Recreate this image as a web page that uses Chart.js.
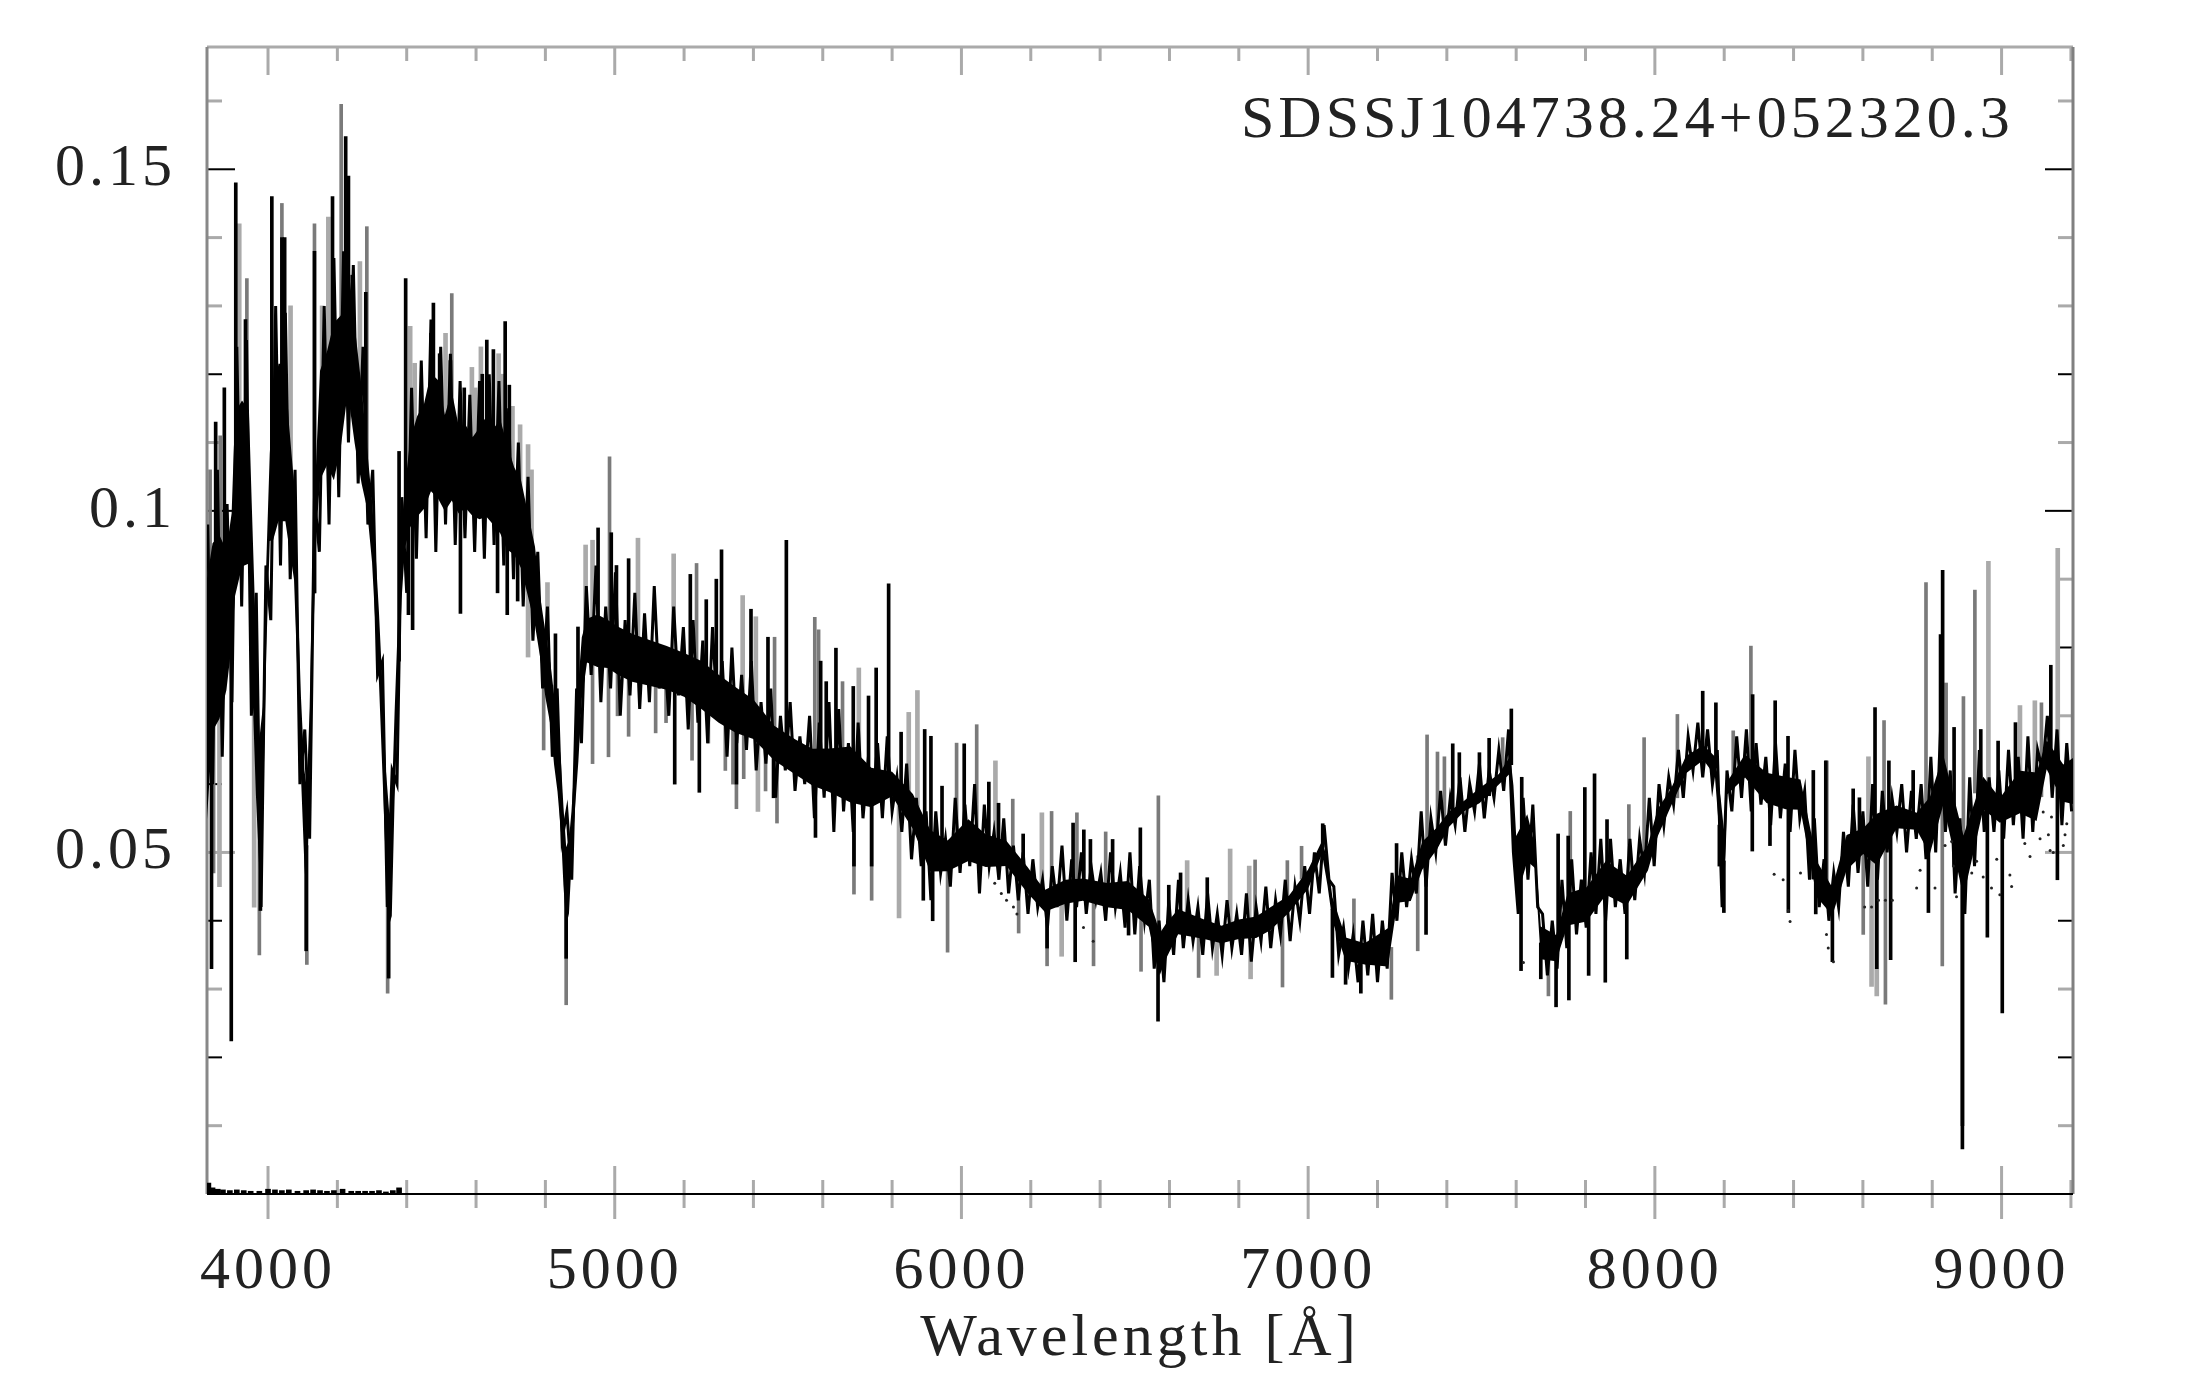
<!DOCTYPE html>
<html>
<head>
<meta charset="utf-8">
<style>body { margin: 0; background: #fff; } canvas { display: block; }</style>
<script src="https://cdn.jsdelivr.net/npm/chart.js@4/dist/chart.umd.js"></script>
</head>
<body>
<canvas id="spectrum" width="2185" height="1388"></canvas>
<script>
// all fluxes below are in units of 0.001
const objectName = 'SDSSJ104738.24+052320.3';
const xLabelText = 'Wavelength [\u00c5]';
const xTickValues = [4000, 5000, 6000, 7000, 8000, 9000];
const yTickValues = [0.05, 0.1, 0.15];
const darkYTicks = [0.02, 0.04, 0.06, 0.08, 0.1, 0.12, 0.15];

// solid band of the spectrum
const coreWave = [3824,3840,3860,3880,3895,3905,3925,3945,3953,3965,3975,3985,3995,4005,4015,4030,4050,4060,4075,4085,4095,4105,4112,4120,4130,4140,4150,4170,4190,4210,4230,4250,4270,4285,4300,4310,4320,4330,4340,4350,4357,4365,4375,4385,4395,4410,4430,4450,4470,4490,4510,4530,4550,4570,4590,4610,4630,4650,4670,4690,4710,4730,4750,4770,4785,4800,4815,4825,4835,4845,4852,4860,4868,4875,4885,4895,4905,4920,4950,4980,5010,5050,5100,5150,5200,5250,5300,5350,5400,5460,5520,5570,5620,5680,5740,5800,5860,5910,5960,6020,6070,6130,6190,6240,6300,6350,6420,6480,6540,6560,6572,6590,6625,6700,6750,6800,6850,6890,6945,7000,7040,7056,7070,7108,7163,7230,7257,7296,7329,7373,7406,7450,7494,7550,7583,7592,7600,7632,7654,7671,7715,7748,7803,7859,7919,7980,8008,8046,8090,8140,8173,8190,8199,8209,8260,8322,8377,8420,8467,8512,8553,8601,8640,8697,8755,8793,8832,8890,8947,8995,9053,9101,9130,9178,9206];
const coreHi = [100,103,104,100,105,122,123,121,108,88,72,76,96,112,122,128,128,118,108,92,76,66,64,74,100,112,125,128,134,134,142,132,122,112,104,97,88,78,66,60,62,74,88,100,106,114,118,120,125,124,118,122,116,116,114,116,118,116,118,114,110,108,103,98,90,85,80,76,72,66,60,54,55,58,66,78,84,86,87,86,85,84,83,82,81,80,78,76,74,70,68,66.7,67,67.8,64,62.8,60,55,53,56.6,54,52.7,49,45.4,47,47.1,46.5,47,44.3,42,39.9,41,42.7,41,40,41,41.5,42.9,44.4,48.3,52.2,50,44.4,38.5,37.6,40.5,47.8,47,52.7,54.6,56.6,58,60,61.9,64.8,62,55,57.5,52,40.5,39,45.3,46.3,50.2,47.8,52.2,57.5,60,64.8,66.3,64.8,60,56,60.9,65.3,62.9,62.4,61.9,50.2,46,54,54.6,57.8,57.8,56.5,60.4,66.3,55,62.4,59,63.7,63.7,67.6,64.4,65.7];
const coreLo = [45,60,62,68,75,80,85,86,70,52,42,50,76,92,90,92,92,90,86,72,58,44,38,58,76,94,100,102,98,104,112,105,100,98,90,80,72,58,44,35,36,54,68,84,92,94,95,96,98,97,96,97,96,97,96,95,95,94,92,90,90,88,84,80,76,70,66,60,56,50,42,36,38,46,54,60,70,76,75,75,74,73,72.5,72,71,69,67,65.6,65,62,60,58.3,57,55,55,57.2,52,45.5,46,47,46.5,47,43,40.4,41.5,42,41,40.4,38,32.6,30.3,33,37,36.5,36,36.5,36.6,37.6,40.5,43.9,49.3,44,39,33.2,32.7,31.7,41.5,42,46.3,49.7,53.1,55.6,56.6,59.5,60.9,50,40.5,46.8,46.8,33,33,38,38.5,42.4,41,46.3,51.2,56,60.9,62.9,60.5,48,41.5,58,60,56,55,55,42,39.6,46,48.7,46,52.6,52.6,47.4,55,41,55,53.3,54,52.6,61,55.9,55.2];

// the noisy trace itself, one value every 14 A from 3826 A, ten values (140 A) per row
const traceStart = 3826;
const traceStep = 14;
const traceFlux = [
98,60,106,64,101,72,124,86,125,70,
88,42,92,84,130,92,129,90,106,60,
68,52,102,94,130,98,137,102,138,110,
136,104,124,98,106,76,78,42,62,60,
102,88,118,93,122,96,128,94,124,98,
123,95,119,96,117,94,119,93,120,95,
119,92,115,90,110,86,105,81,94,74,
86,64,74,52,56,46,74,66,89,76,
92,72,86,74,91,70,84,73,88,71,
85,72,89,74,80,70,86,73,83,68,
84,69,81,66,83,70,78,64,80,66,
76,65,78,62,72,63,74,58,70,62,
72,59,67,60,70,55,69,58,72,53,
71,56,66,53,69,55,63,57,66,55,
67,56,61,53,63,49,58,48,56,43,
56,47,52,45,58,47,57,48,60,44,
57,48,53,46,55,44,51,43,50,41,
49,42,46,39,48,42,51,40,49,42,
50,41,48,43,47,40,50,42,47,39,
50,38,48,40,46,33,40,31,43,35,
46,36,43,37,42,35,44,36,41,35,
43,36,41,35,44,34,42,37,45,36,
43,38,46,37,45,40,48,41,50,44,
54,46,45,35,39,33,38,31,40,32,
41,31,40,33,47,40,50,42,49,44,
56,45,55,50,59,51,58,54,61,53,
60,56,63,55,62,58,65,59,68,50,
41,58,46,57,42,41,32,40,33,46,
36,49,38,46,39,50,41,52,40,52,
42,49,41,52,43,52,47,58,48,60,
54,61,57,65,58,67,62,69,61,68,
60,65,42,62,56,67,58,68,56,66,
57,64,54,66,55,63,53,65,55,59,
46,55,42,49,40,47,42,53,45,57,
47,56,45,60,46,59,50,58,53,60,
50,59,52,60,49,64,50,68,53,62,
44,55,41,61,48,65,53,61,53,62,
52,65,54,64,52,67,53,65,62,70,
58,68,54,66,56
];

// narrow noise spikes above the band, one array pair per grey level
const blackUpWave = [3849,3874,3907,3935,4011,4040,4048,4134,4186,4224,4232,4243,4282,4378,4397,4470,4477,4495,4526,4566,4618,4631,4650,4684,4696,4829,4894,4952,4990,5005,5040,5218,5264,5293,5308,5393,5442,5495,5594,5610,5638,5688,5732,5754,5790,5826,5894,5912,5944,6008,6079,6107,6178,6322,6353,6372,6436,6516,6598,6632,6709,7042,7255,7417,7436,7494,7522,7586,7616,7721,7750,7798,7826,7862,8138,8176,8282,8347,8384,8457,8493,8572,8590,8635,8675,8745,8824,8830,8863,8940,8990,9040,9142];
const blackUpFlux = [113,118,148,128,146,140,140,138,146,154.8,149,134.5,132,108.7,134,126,130.4,123,122,118,120,125,123.6,127.7,118.4,82,83,97.5,96.8,92,93,90.7,87,90,94.3,85.6,81.5,95.7,78,75,79.9,74.3,72.9,77,89.3,67.6,68,67,59.7,65.9,60.3,57.2,52.7,54.3,53.3,51.9,51.9,53.6,45.2,47,46.3,54.2,51.3,65.9,64.6,64.6,66.7,71,61,52.7,52.4,59.5,61.5,54.8,73.6,71.9,73.1,72.2,67,62,63.4,59.3,58,71.2,63.4,62,81.9,91.3,68.3,68,66.3,69,77.4];
const greyUpWave = [3833,3862,3939,4040,4134,4211,4285,4530,4985,5236,5461,5577,5588,5657,5986,6044,6148,6260,6333,6416,6568,6847,6940,6981,7132,7343,7373,7393,7561,7756,7925,7969,8065,8226,8277,8496,8661,8782,8840,8890,8923,9115,9205];
const greyUpFlux = [106,111,134,145,142,159.5,141.6,131.8,107.9,92.3,81.5,84.4,82.6,75,66,68.7,57.8,56,55.8,53,58.3,48.9,48.8,50.9,43.2,67.2,64.7,64,66.8,56,57,66.8,70.2,67.8,80.2,63.4,69.3,89.5,74.8,72.8,88.4,71.9,79.7];
const lightUpWave = [3917,4065,4156,4174,4265,4410,4423,4512,4588,4597,4614,4665,4675,4705,4727,4750,4760,4806,4916,4936,5067,5170,5369,5407,5704,5848,5873,6098,6232,6651,6775,6830,8616,8962,9053,9096,9162];
const lightUpFlux = [142,130,130,143,136.5,127,121.6,126,121,118,124,123,120,115.3,112.6,109.7,106,89.5,95,95.7,96,93.7,87.6,84.5,77,70.5,73.7,63.4,55.8,48.8,50.5,48,64,92.6,71.5,72.2,94.5];

// and below the band
const blackDownWave = [3837,3894,3978,4110,4348,4405,4417,4555,4662,4690,4720,4860,5173,5244,5351,5458,5579,5690,5741,5890,5917,6247,6328,6482,6567,7070,7108,7152,7340,7614,7671,7715,7752,7809,7857,7919,8186,8199,8281,8332,8385,8464,8512,8640,8680,8789,8887,8959,9002,9161];
const blackDownFlux = [33,22.4,41.5,35.6,31.6,84.8,82.6,85,88,84.8,86.8,34.5,60,58.8,60,58,52.2,48,48,43,40,36,34,37.9,25.3,31.7,30.7,29.4,38,32.7,31.5,27.4,28.4,32,31,34.4,48,41.2,50.2,51,41.2,41,34,33,34.3,41.2,6.6,37.6,26.5,46];
const greyDownWave = [3843,3975,4112,4345,4795,4860,4936,4982,5008,5040,5118,5148,5223,5270,5319,5341,5351,5372,5435,5468,5690,5741,5960,6165,6247,6381,6518,6684,6926,7240,7316,7693,8601,8665,8829];
const greyDownFlux = [47,35,33.6,29.4,65,27.7,63,64,70,67,67.5,69,63.5,66,62,60,56.4,60.8,59,54.3,43.9,43,35.4,38.2,33.4,33.4,32.6,31.7,30.3,28.5,35.6,29,38,27.8,33.4];
const lightDownWave = [3860,3960,4750,4817,5413,5820,6289,6736,6834,8625,8640,8887];
const lightDownFlux = [45,42,78.6,74.5,56,40.4,34.8,32,31.5,30.4,29,10];

// faint second spectrum, only visible as loose dots under the band
const dotWave = [6096,6115,6130,6150,6160,6352,6380,7621,8344,8370,8420,8385,8390,8495,8500,8515,8605,8625,8645,8665,8685,8755,8765,8808,8837,8856,8861,8870,8914,8928,8947,8971,8986,8995,9024,9029,9067,9082,9111,9120,9135,9144,9140,9149,9178,9188,9183];
const dotFlux = [45.5,44,43,42,41,39,37,33.9,46.8,46,47,41.5,39.9,38,36,34,42,42,43,43,43,44.8,47.4,44.8,51,51.6,48,43.5,47,48.7,46.4,44.8,49,43.8,46.7,45,51.3,49.4,52,55.9,52.6,55.2,50.3,50,51,54.2,52.6];

// error spectrum along the bottom axis
const errWave = [3828,3840,3855,3870,3890,3910,3930,3950,3975,4000,4020,4040,4060,4085,4110,4130,4150,4170,4190,4215,4240,4260,4280,4300,4320,4340,4360,4378];
const errFlux = [1.6,0.9,0.7,0.6,0.5,0.6,0.5,0.4,0.4,0.7,0.6,0.5,0.6,0.4,0.5,0.6,0.5,0.4,0.5,0.7,0.4,0.4,0.4,0.4,0.5,0.3,0.5,0.9];

const tickGrey = '#aaaaaa';

function coreMid(wave) {
    let k = 0;
    coreWave.forEach((c, i) => {
        if (Math.abs(c - wave) < Math.abs(coreWave[k] - wave)) k = i;
    });
    return (coreHi[k] + coreLo[k]) / 2;
}

function spikePoints(waves, fluxes) {
    return waves.map((w, i) => {
        const base = coreMid(w);
        return { x: w, y: [Math.min(fluxes[i], base) / 1000, Math.max(fluxes[i], base) / 1000] };
    });
}

function spikeSet(waves, fluxes, color, thickness, order) {
    return {
        type: 'bar',
        data: spikePoints(waves, fluxes),
        backgroundColor: color,
        barThickness: thickness,
        grouped: false,
        borderWidth: 0,
        order
    };
}

// the trace draws the rough edges, so the filled band stops just short of them
function coreLine(values, other, fill) {
    return {
        type: 'line',
        data: coreWave.map((w, i) => ({ x: w, y: (values[i] * 0.82 + other[i] * 0.18) / 1000 })),
        borderWidth: 0,
        backgroundColor: '#000',
        pointRadius: 0,
        tension: 0,
        fill,
        order: 3
    };
}

const framePlugin = {
    id: 'frame',
    beforeDraw(chart) {
        chart.ctx.letterSpacing = '4px';
    },
    beforeDatasetsDraw(chart) {
        const { ctx, chartArea: a, scales: { x, y } } = chart;
        const line = (x1, y1, x2, y2, color, width) => {
            ctx.strokeStyle = color;
            ctx.lineWidth = width;
            ctx.beginPath();
            ctx.moveTo(x1, y1);
            ctx.lineTo(x2, y2);
            ctx.stroke();
        };
        ctx.save();
        for (let w = 4000; w <= 9200; w += 200) {
            const px = x.getPixelForValue(w);
            const major = w % 1000 === 0;
            line(px, a.bottom - (major ? 28 : 14), px, a.bottom + (major ? 25 : 14), tickGrey, 3);
            line(px, a.top, px, a.top + (major ? 28 : 14), tickGrey, 3);
        }
        for (let i = 1; i <= 16; i++) {
            const v = i / 100;
            const py = y.getPixelForValue(v);
            const major = i % 5 === 0;
            const dark = darkYTicks.includes(v);
            line(a.left, py, a.left + (major ? 28 : 15), py, dark ? '#000' : tickGrey, dark ? 2 : 3);
            line(a.right, py, a.right - (major ? 28 : 15), py, dark ? '#000' : tickGrey, dark ? 2 : 3);
        }
        line(a.left, a.top, a.right, a.top, tickGrey, 3);
        line(a.left, a.top, a.left, a.bottom, '#888888', 3);
        line(a.right, a.top, a.right, a.bottom, '#808080', 3);
        line(a.left, a.bottom, a.right, a.bottom, '#000', 2);
        ctx.restore();
    },
    afterDraw(chart) {
        const ctx = chart.ctx;
        ctx.save();
        ctx.font = '60px "Liberation Serif"';
        ctx.fillStyle = '#222';
        ctx.textAlign = 'left';
        ctx.textBaseline = 'alphabetic';
        ctx.fillText(objectName, 1241, 137);
        ctx.restore();
    }
};

new Chart(document.getElementById('spectrum'), {
    type: 'bar',
    data: {
        datasets: [
            spikeSet(lightUpWave, lightUpFlux, '#aaaaaa', 4, 7),
            spikeSet(lightDownWave, lightDownFlux, '#aaaaaa', 4, 7),
            spikeSet(greyUpWave, greyUpFlux, '#7a7a7a', 3, 6),
            spikeSet(greyDownWave, greyDownFlux, '#7a7a7a', 3, 6),
            coreLine(coreHi, coreLo, '+1'),
            coreLine(coreLo, coreHi, false),
            {
                type: 'line',
                data: traceFlux.map((f, i) => ({ x: traceStart + i * traceStep, y: f / 1000 })),
                borderColor: '#000',
                borderWidth: 3,
                borderJoinStyle: 'miter',
                pointRadius: 0,
                tension: 0,
                fill: false,
                order: 2
            },
            spikeSet(blackUpWave, blackUpFlux, '#000', 3, 2),
            spikeSet(blackDownWave, blackDownFlux, '#000', 3, 2),
            {
                type: 'bar',
                data: errWave.map((w, i) => ({ x: w, y: [0, errFlux[i] / 1000] })),
                backgroundColor: '#000',
                barThickness: 5,
                grouped: false,
                borderWidth: 0,
                order: 1
            },
            {
                type: 'scatter',
                data: dotWave.map((w, i) => ({ x: w, y: dotFlux[i] / 1000 })),
                backgroundColor: '#222',
                pointRadius: 1.5,
                borderWidth: 0,
                order: 1
            }
        ]
    },
    options: {
        responsive: false,
        animation: false,
        devicePixelRatio: 1,
        events: [],
        layout: { padding: { top: 47, right: 112 } },
        plugins: { legend: { display: false }, tooltip: { enabled: false } },
        scales: {
            x: {
                type: 'linear',
                min: 3824,
                max: 9206,
                offset: false,
                grid: { display: false, offset: false },
                border: { display: false },
                afterBuildTicks: s => { s.ticks = xTickValues.map(value => ({ value })); },
                afterFit: s => { s.height = 194; },
                ticks: {
                    autoSkip: false,
                    maxRotation: 0,
                    padding: 34,
                    color: '#222',
                    font: { family: '"Liberation Serif"', size: 60 },
                    callback: v => String(v)
                },
                title: {
                    display: true,
                    text: xLabelText,
                    color: '#222',
                    font: { family: '"Liberation Serif"', size: 60 },
                    padding: { top: 0, bottom: 13 }
                }
            },
            y: {
                min: 0,
                max: 0.1679,
                grid: { display: false },
                border: { display: false },
                afterBuildTicks: s => { s.ticks = yTickValues.map(value => ({ value })); },
                afterFit: s => { s.width = 207; s.paddingTop = 0; s.paddingBottom = 0; },
                ticks: {
                    padding: 23,
                    color: '#222',
                    font: { family: '"Liberation Serif"', size: 60 },
                    callback: v => String(v)
                }
            }
        }
    },
    plugins: [framePlugin]
});
</script>
</body>
</html>
